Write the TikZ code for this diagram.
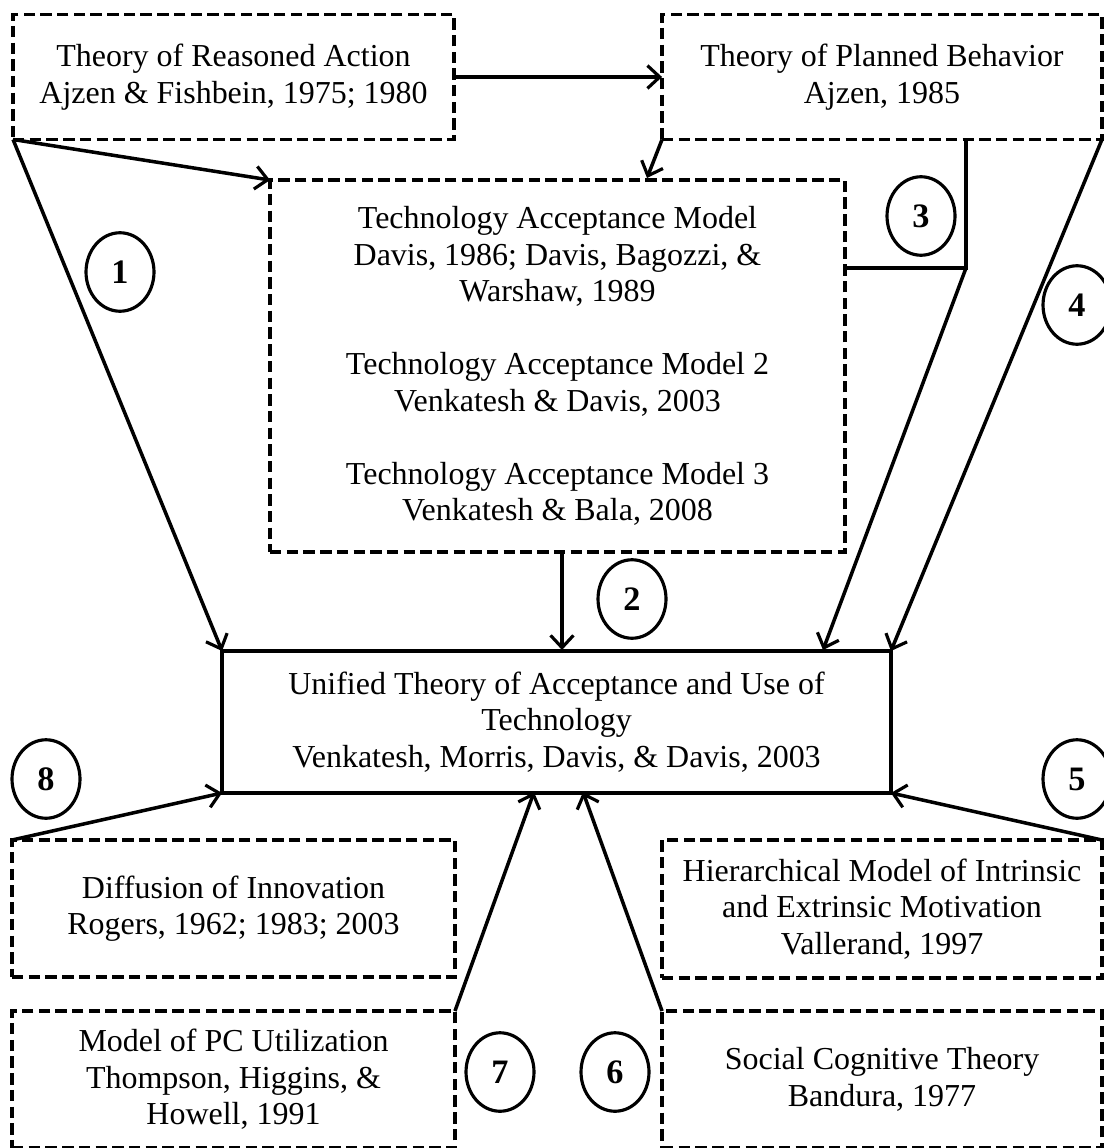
\documentclass[tikz,border=0pt]{standalone}
\usepackage{fontspec}
\setmainfont{Liberation Serif}
\usetikzlibrary{arrows.meta,shapes.geometric}

\tikzset{
  model/.style={draw, line width=2pt, dash pattern=on 6.5pt off 3pt, align=center,
    inner sep=0pt, outer sep=0pt, font=\fontsize{18.2pt}{20.8pt}\selectfont},
  core/.style={model, solid},
  num/.style={draw, ellipse, line width=1.8pt, inner sep=0pt,
    minimum width=1.36cm, minimum height=1.57cm, font=\fontsize{19.5pt}{20pt}\selectfont\bfseries},
  link/.style={line width=2pt, -{Straight Barb[length=7pt,width=13pt,line width=1.8pt]}}
}

\begin{document}
\begin{tikzpicture}[x=0.02cm, y=-0.02cm, line join=miter]
  \useasboundingbox (0,0) rectangle (1104,1148);
  % models
  \node[model, minimum width=8.82cm, minimum height=2.5cm] (tra) at (233.5,77)
    {Theory of Reasoned Action\\Ajzen \& Fishbein, 1975; 1980};
  \node[model, minimum width=8.8cm, minimum height=2.5cm] (tpb) at (882,77)
    {Theory of Planned Behavior\\Ajzen, 1985};
  \node[model, minimum width=11.5cm, minimum height=7.44cm] (tam) at (557.5,366)
    {Technology Acceptance Model\\Davis, 1986; Davis, Bagozzi, \&\\Warshaw, 1989\\[20.8pt]
     Technology Acceptance Model 2\\Venkatesh \& Davis, 2003\\[20.8pt]
     Technology Acceptance Model 3\\Venkatesh \& Bala, 2008};
  \node[core, minimum width=13.38cm, minimum height=2.84cm] (utaut) at (556.5,722)
    {Unified Theory of Acceptance and Use of\\Technology\\Venkatesh, Morris, Davis, \& Davis, 2003};
  \node[model, minimum width=8.86cm, minimum height=2.74cm] (doi) at (233.5,908.5)
    {Diffusion of Innovation\\Rogers, 1962; 1983; 2003};
  \node[model, minimum width=8.8cm, minimum height=2.76cm] (hm) at (882,909)
    {Hierarchical Model of Intrinsic\\and Extrinsic Motivation\\Vallerand, 1997};
  \node[model, minimum width=8.86cm, minimum height=2.74cm] (mpcu) at (233.5,1079.5)
    {Model of PC Utilization\\Thompson, Higgins, \&\\Howell, 1991};
  \node[model, minimum width=8.8cm, minimum height=2.74cm] (sct) at (882,1079.5)
    {Social Cognitive Theory\\Bandura, 1977};
  % free ends
  \coordinate (tpbin) at (647,178);
  \coordinate (knee) at (966,268);
  \coordinate (in3) at (823,650);
  \coordinate (in7) at (534,792);
  \coordinate (in6) at (583,792);
  % links
  \draw[link] (tra.east) -- (tpb.west);
  \draw[link] (tra.south west) -- (tam.north west);
  \draw[link] (tra.south west) -- (utaut.north west);
  \draw[link] (tpb.south west) -- (tpbin);
  \draw[line width=2pt] (tpb.south -| knee) -- (knee) -- (tam.east |- knee);
  \draw[link] (knee) -- (in3);
  \draw[link] (tpb.south east) -- (utaut.north east);
  \draw[link] (tam.south -| 562,0) -- (562,650);
  \draw[link] (doi.north west) -- (utaut.south west);
  \draw[link] (hm.north east) -- (utaut.south east);
  \draw[link] (mpcu.north east) -- (in7);
  \draw[link] (sct.north west) -- (in6);
  % numbers
  \node[num] (n1) at (120,272) {1};
  \node[num] (n2) at (632,599) {2};
  \node[num] (n3) at (921,216) {3};
  \node[num] (n4) at (1077,305) {4};
  \node[num] (n5) at (1077,779) {5};
  \node[num] (n6) at (615,1072) {6};
  \node[num] (n7) at (500,1072) {7};
  \node[num] (n8) at (46,779) {8};
\end{tikzpicture}
\end{document}
